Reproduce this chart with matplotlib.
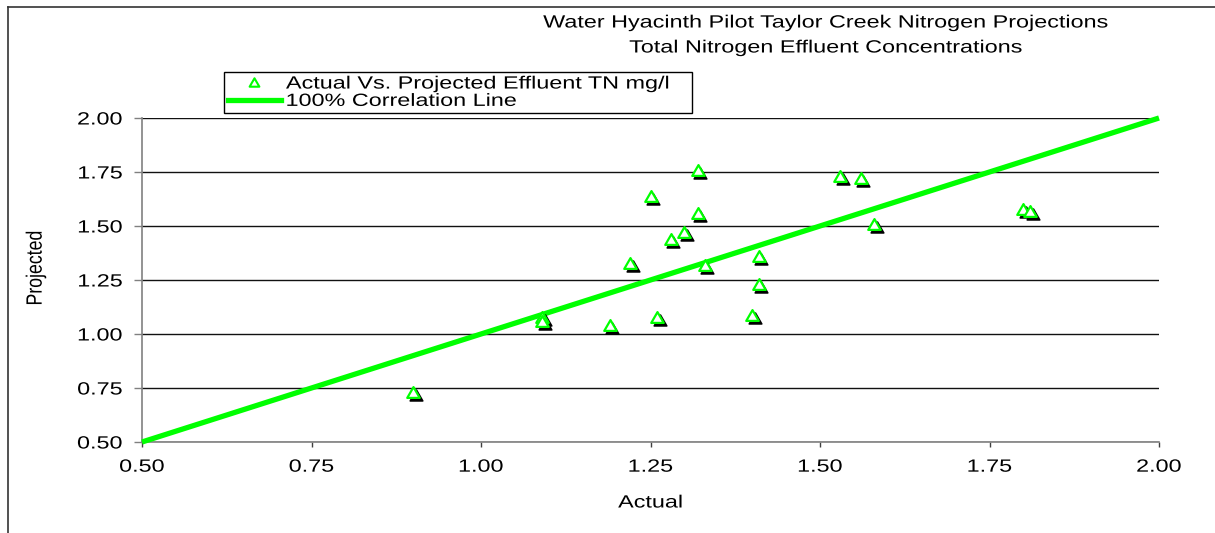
import matplotlib
matplotlib.use("Agg")
import matplotlib.pyplot as plt
from matplotlib.patheffects import AbstractPathEffect
from matplotlib.transforms import Affine2D, ScaledTranslation
from matplotlib.lines import Line2D
from matplotlib.path import Path

# ---------------- data ----------------
actual = [0.90, 1.09, 1.09, 1.19, 1.22, 1.25, 1.26, 1.28, 1.30, 1.32,
          1.32, 1.33, 1.40, 1.41, 1.41, 1.53, 1.56, 1.58, 1.80, 1.81]
projected = [0.73, 1.08, 1.06, 1.04, 1.33, 1.64, 1.08, 1.44, 1.47, 1.76,
             1.56, 1.32, 1.09, 1.36, 1.23, 1.73, 1.72, 1.51, 1.58, 1.57]
corr_x = [0.50, 2.00]
corr_y = [0.50, 2.00]
ticks = [0.50, 0.75, 1.00, 1.25, 1.50, 1.75, 2.00]
tick_labels = ["0.50", "0.75", "1.00", "1.25", "1.50", "1.75", "2.00"]
title1 = "Water Hyacinth Pilot Taylor Creek Nitrogen Projections"
title2 = "Total Nitrogen Effluent Concentrations"
series_label = "Actual Vs. Projected Effluent TN mg/l"
line_label = "100% Correlation Line"

GREEN = "#00FF00"
FS = 12.75
SX = 1.32

plt.rcParams['font.family'] = ['Liberation Sans', 'DejaVu Sans']


class Stretch(AbstractPathEffect):
    """Horizontally stretched glyphs (like the wide Excel rendering)."""
    def __init__(self, sx=1.0, sy=1.0, anchor='center'):
        super().__init__()
        self.sx, self.sy, self.anchor = sx, sy, anchor

    def draw_path(self, renderer, gc, tpath, affine, rgbFace=None):
        ext = tpath.get_extents()
        if self.anchor == 'left':
            cx = ext.x0
        elif self.anchor == 'right':
            cx = ext.x1
        else:
            cx = 0.5 * (ext.x0 + ext.x1)
        cy = 0.5 * (ext.y0 + ext.y1)
        t = Affine2D().translate(-cx, -cy).scale(self.sx, self.sy).translate(cx, cy)
        renderer.draw_path(gc, tpath, t + affine, rgbFace)


W, H = 1215, 533
fig = plt.figure(figsize=(W / 100, H / 100), dpi=100)
ax = fig.add_axes([142 / W, 1 - 442 / H, (1159 - 142) / W, (442 - 118) / H])

tri = Path([(-1, -0.866), (1, -0.866), (0, 0.866), (-1, -0.866)],
           [Path.MOVETO, Path.LINETO, Path.LINETO, Path.CLOSEPOLY])

# correlation line
ln, = ax.plot(corr_x, corr_y, color=GREEN, lw=3.8, zorder=2, clip_on=False,
              solid_capstyle='butt', label=line_label)

# shadow markers
shadow = ax.transData + ScaledTranslation(2.5 / 100, -3 / 100, fig.dpi_scale_trans)
ax.plot(actual, projected, ls='none', marker=tri, ms=9, mfc='black', mec='black',
        mew=1.2, transform=shadow, zorder=3, clip_on=False)
pts, = ax.plot(actual, projected, ls='none', marker=tri, ms=9, mfc='white', mec=GREEN,
               mew=1.6, zorder=4, clip_on=False, label=series_label)

ax.set_xlim(0.5, 2.0)
ax.set_ylim(0.5, 2.0)
ax.set_xticks(ticks)
ax.set_xticklabels(tick_labels)
ax.set_yticks(ticks)
ax.set_yticklabels(tick_labels)

for s in ['top', 'right']:
    ax.spines[s].set_visible(False)
for s in ['left', 'bottom']:
    ax.spines[s].set_color('#808080')
    ax.spines[s].set_linewidth(1.2)
    ax.spines[s].set_zorder(1.5)

ax.yaxis.grid(True, color='#111111', lw=1.0, zorder=0)
ax.set_axisbelow(True)
ax.tick_params(axis='y', length=6, width=1, color='#808080', pad=8, labelsize=FS)
ax.tick_params(axis='x', length=3.5, width=1, color='#404040', pad=8.5, labelsize=FS)

for lbl in ax.get_xticklabels():
    lbl.set_path_effects([Stretch(SX, 1, 'center')])
for lbl in ax.get_yticklabels():
    lbl.set_path_effects([Stretch(SX, 1, 'right')])

xl = ax.set_xlabel("Actual", fontsize=FS, va='center')
ax.xaxis.set_label_coords(0.5, (442 - 503) / 324)
xl.set_path_effects([Stretch(SX, 1, 'center')])
yl = ax.set_ylabel("Projected", fontsize=FS, va='center')
ax.yaxis.set_label_coords((36 - 142) / 1017, (442 - 268) / 324)
yl.set_path_effects([Stretch(1, 1.25, 'center')])

# titles
for txt, ypx in [(title1, 23), (title2, 48)]:
    t = fig.text(826 / W, 1 - ypx / H, txt, ha='center', va='center', fontsize=FS)
    t.set_path_effects([Stretch(SX, 1, 'center')])

# legend
leg_handles = [Line2D([], [], ls='none', marker=tri, ms=7, mfc='white', mec=GREEN, mew=1.5),
               Line2D([], [], color=GREEN, lw=3.8)]
leg = fig.legend(leg_handles, [series_label, line_label], loc='upper left',
                 bbox_to_anchor=(224 / W, 1 - 117 / H, 468 / W, 45 / H), mode='expand',
                 fontsize=FS, frameon=True, fancybox=False, framealpha=1,
                 edgecolor='black', borderpad=0.2, labelspacing=0.02,
                 handlelength=3.0, handletextpad=0.3, borderaxespad=0.0)
leg.get_frame().set_linewidth(1.0)
for t in leg.get_texts():
    t.set_path_effects([Stretch(SX, 1, 'left')])

# outer chart border (left and top visible)
fig.add_artist(Line2D([8 / W, 8 / W], [0, 1 - 7 / H], color='#333333', lw=1.2,
                      transform=fig.transFigure))
fig.add_artist(Line2D([8 / W, 1], [1 - 7 / H, 1 - 7 / H], color='#333333', lw=1.2,
                      transform=fig.transFigure))

fig.savefig("out.png", dpi=100)
